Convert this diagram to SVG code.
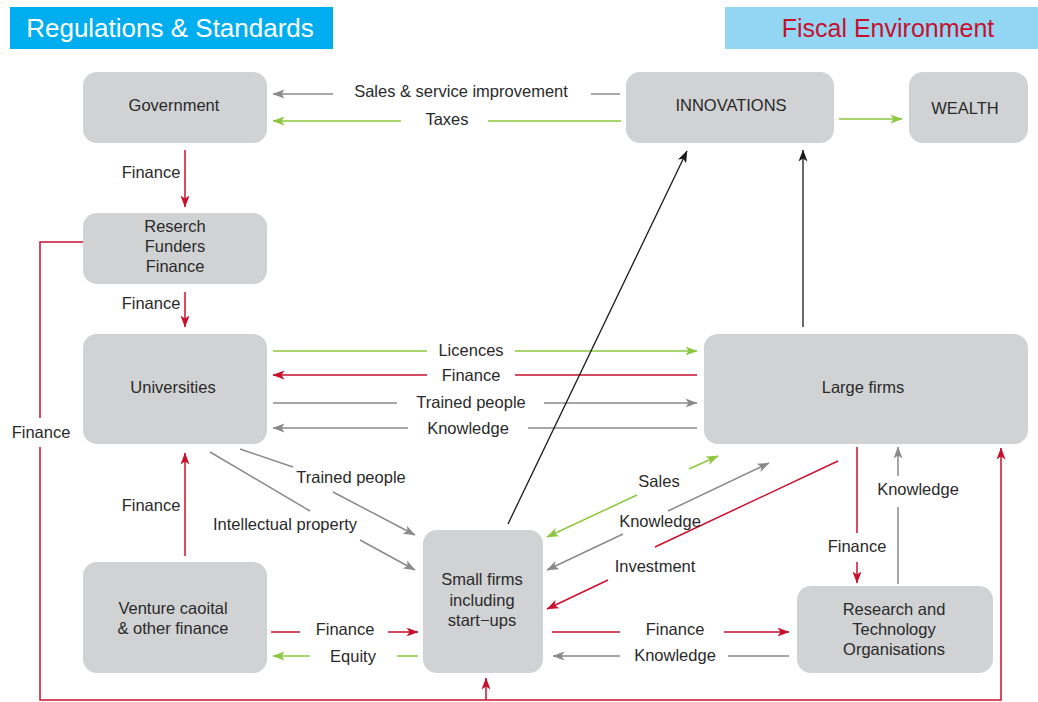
<svg xmlns="http://www.w3.org/2000/svg" width="1038" height="702" viewBox="0 0 1038 702">
<style>
.node{fill:#d1d2d4}
.t{font-family:"Liberation Sans",Arial,sans-serif;font-size:16.5px;fill:#2a2a2a;text-anchor:middle}
.l{font-family:"Liberation Sans",Arial,sans-serif;font-size:16.5px;fill:#2a2a2a;text-anchor:middle}
.c{fill:none;stroke-width:1.5}
.red{stroke:#c8102e}
.green{stroke:#8dc63f}
.gray{stroke:#8a8a8c}
.black{stroke:#1a1a1a;stroke-width:1.3}
.hd{font-family:"Liberation Sans",Arial,sans-serif;font-size:25px;text-anchor:middle}
</style>
<defs>
<marker id="mr" viewBox="0 0 12 10" refX="11.5" refY="5" markerWidth="12" markerHeight="10" markerUnits="userSpaceOnUse" orient="auto-start-reverse"><path d="M0,0.5 L12,5 L0,9.5 L3,5 z" fill="#c8102e"/></marker>
<marker id="mg" viewBox="0 0 12 10" refX="11.5" refY="5" markerWidth="12" markerHeight="10" markerUnits="userSpaceOnUse" orient="auto-start-reverse"><path d="M0,0.5 L12,5 L0,9.5 L3,5 z" fill="#8dc63f"/></marker>
<marker id="my" viewBox="0 0 12 10" refX="11.5" refY="5" markerWidth="12" markerHeight="10" markerUnits="userSpaceOnUse" orient="auto-start-reverse"><path d="M0,0.5 L12,5 L0,9.5 L3,5 z" fill="#8a8a8c"/></marker>
<marker id="mk" viewBox="0 0 12 10" refX="11.5" refY="5" markerWidth="12" markerHeight="10" markerUnits="userSpaceOnUse" orient="auto-start-reverse"><path d="M0,0.5 L12,5 L0,9.5 L3,5 z" fill="#1a1a1a"/></marker>
</defs>
<rect width="1038" height="702" fill="#ffffff"/>

<g id="header-regulations">
<rect x="10" y="7" width="323" height="42" fill="#00aeef"/>
<text class="hd" x="170" y="37" fill="#ffffff" style="font-size:26px">Regulations &amp; Standards</text>
</g>
<g id="header-fiscal">
<rect x="725" y="7" width="313" height="42" fill="#92d6f4"/>
<text class="hd" x="888" y="37" fill="#c8102e">Fiscal Environment</text>
</g>

<g id="connectors">
<path class="c gray" d="M620,94 L591,94 M333,94 L273,94" marker-end="url(#my)"/>
<path class="c green" d="M621,121 L488,121 M401,121 L273,121" marker-end="url(#mg)"/>
<path class="c green" d="M839,119 L902,119" marker-end="url(#mg)"/>
<path class="c red" d="M185,150 L185,207" marker-end="url(#mr)"/>
<path class="c red" d="M185,292 L185,327" marker-end="url(#mr)"/>
<path class="c red" d="M83,242 L40,242 L40,418 M40,447 L40,700 L1001,700 L1001,448" marker-end="url(#mr)"/>
<path class="c red" d="M486,700 L486,678" marker-end="url(#mr)"/>
<path class="c green" d="M273,351 L427,351 M515,351 L697,351" marker-end="url(#mg)"/>
<path class="c red" d="M697,375 L515,375 M427,375 L273,375" marker-end="url(#mr)"/>
<path class="c gray" d="M273,403 L397,403 M544,403 L697,403" marker-end="url(#my)"/>
<path class="c gray" d="M697,428 L528,428 M408,428 L273,428" marker-end="url(#my)"/>
<path class="c black" d="M508,524 L687,151" marker-end="url(#mk)"/>
<path class="c black" d="M803,327 L803,150" marker-end="url(#mk)"/>
<path class="c gray" d="M240,449 L293,467 M333,492 L415,535" marker-end="url(#my)"/>
<path class="c gray" d="M210,452 L310,511 M360,540 L415,570" marker-end="url(#my)"/>
<path class="c red" d="M185,556 L185,453" marker-end="url(#mr)"/>
<path class="c red" d="M271,632 L300,632 M388,632 L418,632" marker-end="url(#mr)"/>
<path class="c green" d="M418,656 L397,656 M310,656 L273,656" marker-end="url(#mg)"/>
<path class="c red" d="M552,632 L620,632 M724,632 L789,632" marker-end="url(#mr)"/>
<path class="c gray" d="M789,656 L728,656 M620,656 L553,656" marker-end="url(#my)"/>
<path class="c green" d="M547,537 L637,495 M689,469 L718,456" marker-start="url(#mg)" marker-end="url(#mg)"/>
<path class="c gray" d="M547,570 L623,534 M668,511 L769,463" marker-start="url(#my)" marker-end="url(#my)"/>
<path class="c red" d="M838,461 L655,547 M608,580 L547,609" marker-end="url(#mr)"/>
<path class="c red" d="M857,447 L857,533 M857,562 L857,583" marker-end="url(#mr)"/>
<path class="c gray" d="M898,584 L898,507 M898,476 L898,447" marker-end="url(#my)"/>
</g>

<g id="connector-labels">
<text class="l" x="461" y="97">Sales &amp; service improvement</text>
<text class="l" x="447" y="125">Taxes</text>
<text class="l" x="151" y="178">Finance</text>
<text class="l" x="151" y="309">Finance</text>
<text class="l" x="41" y="438">Finance</text>
<text class="l" x="471" y="356">Licences</text>
<text class="l" x="471" y="381">Finance</text>
<text class="l" x="471" y="408">Trained people</text>
<text class="l" x="468" y="434">Knowledge</text>
<text class="l" x="351" y="483">Trained people</text>
<text class="l" x="285" y="530">Intellectual property</text>
<text class="l" x="151" y="511">Finance</text>
<text class="l" x="345" y="635">Finance</text>
<text class="l" x="353" y="662">Equity</text>
<text class="l" x="675" y="635">Finance</text>
<text class="l" x="675" y="661">Knowledge</text>
<text class="l" x="659" y="487">Sales</text>
<text class="l" x="660" y="527">Knowledge</text>
<text class="l" x="655" y="572">Investment</text>
<text class="l" x="857" y="552">Finance</text>
<text class="l" x="918" y="495">Knowledge</text>
</g>

<g id="government">
<rect class="node" x="83" y="72" width="184" height="71" rx="14"/>
<text class="t" x="174" y="111">Government</text>
</g>
<g id="innovations">
<rect class="node" x="626" y="72" width="208" height="71" rx="14"/>
<text class="t" x="731" y="111">INNOVATIONS</text>
</g>
<g id="wealth">
<rect class="node" x="909" y="72" width="119" height="71" rx="14"/>
<text class="t" x="965" y="114">WEALTH</text>
</g>
<g id="research-funders">
<rect class="node" x="83" y="213" width="184" height="71" rx="14"/>
<text class="t" x="175" y="232">Reserch</text>
<text class="t" x="175" y="252">Funders</text>
<text class="t" x="175" y="272">Finance</text>
</g>
<g id="universities">
<rect class="node" x="83" y="334" width="184" height="110" rx="14"/>
<text class="t" x="173" y="393">Universities</text>
</g>
<g id="large-firms">
<rect class="node" x="704" y="334" width="324" height="110" rx="14"/>
<text class="t" x="863" y="393">Large firms</text>
</g>
<g id="venture-capital">
<rect class="node" x="83" y="562" width="184" height="111" rx="14"/>
<text class="t" x="173" y="614">Venture caoital</text>
<text class="t" x="173" y="634">&amp; other finance</text>
</g>
<g id="small-firms">
<rect class="node" x="423" y="530" width="120" height="143" rx="14"/>
<text class="t" x="482" y="585">Small firms</text>
<text class="t" x="482" y="606">including</text>
<text class="t" x="482" y="626">start−ups</text>
</g>
<g id="rto">
<rect class="node" x="797" y="586" width="196" height="87" rx="14"/>
<text class="t" x="894" y="615">Research and</text>
<text class="t" x="894" y="635">Technology</text>
<text class="t" x="894" y="655">Organisations</text>
</g>
</svg>
